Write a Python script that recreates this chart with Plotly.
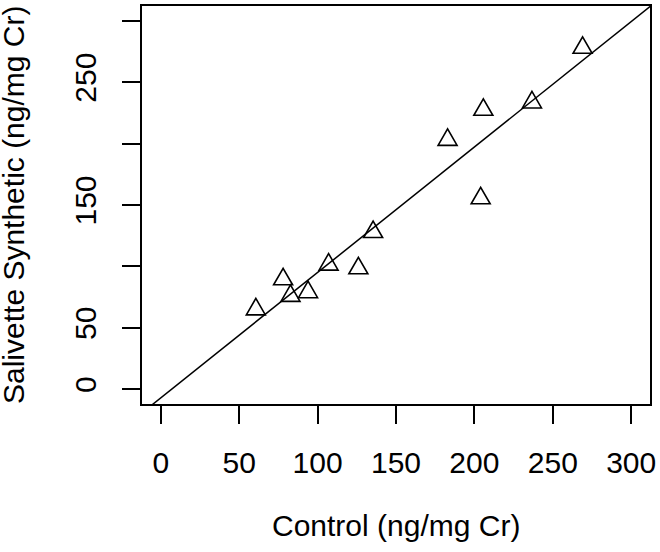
import plotly.graph_objects as go

# Data
control = [60.6, 78.0, 82.7, 93.9, 107.0, 126.0, 135.4, 182.9, 204.0, 205.7, 236.7, 269.0]
synthetic = [65.0, 89.5, 76.0, 79.0, 101.5, 98.5, 128.0, 203.0, 155.5, 227.5, 233.5, 278.0]

x_ticks = [0, 50, 100, 150, 200, 250, 300]
x_ticklabels = ["0", "50", "100", "150", "200", "250", "300"]
y_ticks = [0, 50, 100, 150, 200, 250, 300]
y_ticklabels = ["0", "50", "", "150", "", "250", ""]

fit_slope = 1.021
fit_intercept = -7.0
axis_range = [-12, 312]

line_x = [axis_range[0] - 20, axis_range[1] + 20]
line_y = [fit_intercept + fit_slope * v for v in line_x]

FONT = "Liberation Sans, Arial, sans-serif"
FS = 30

# R pch=2 style open triangle (equilateral), in pixels around each point
TRI_PATH = "M -9.5,-5.5 L 9.5,-5.5 L 0,11 Z"

fig = go.Figure()
fig.add_trace(go.Scatter(x=line_x, y=line_y, mode="lines",
                         line=dict(color="black", width=1.5),
                         hoverinfo="skip", showlegend=False))
fig.add_trace(go.Scatter(x=control, y=synthetic, mode="markers",
                         marker=dict(symbol="triangle-up", size=16, opacity=0,
                                     color="black"),
                         showlegend=False))

for cx, sy in zip(control, synthetic):
    fig.add_shape(type="path", xref="x", yref="y",
                  xsizemode="pixel", ysizemode="pixel",
                  xanchor=cx, yanchor=sy, path=TRI_PATH,
                  line=dict(color="black", width=1.6), fillcolor="rgba(0,0,0,0)")

axis_common = dict(showgrid=False, zeroline=False, showline=True, mirror=True,
                   linecolor="black", linewidth=1.5, ticks="outside", ticklen=18,
                   tickwidth=1.5, tickcolor="black",
                   tickfont=dict(family=FONT, size=FS, color="black"))

fig.update_layout(
    width=660, height=552,
    margin=dict(l=142, r=7, t=4, b=148),
    paper_bgcolor="white", plot_bgcolor="white",
    xaxis=dict(range=axis_range, tickmode="array", tickvals=x_ticks,
               ticktext=x_ticklabels, ticklabelstandoff=13, **axis_common),
    yaxis=dict(range=axis_range, tickmode="array", tickvals=y_ticks,
               ticktext=y_ticklabels, tickangle=-90, ticklabelstandoff=14,
               **axis_common),
    annotations=[
        dict(text="Control (ng/mg Cr)", xref="paper", yref="paper", x=0.5, y=0,
             xanchor="center", yanchor="middle", yshift=-121, showarrow=False,
             font=dict(family=FONT, size=FS, color="black")),
        dict(text="Salivette Synthetic (ng/mg Cr)", xref="paper", yref="paper",
             x=0, y=0.5, xanchor="center", yanchor="middle", xshift=-129,
             textangle=-90, showarrow=False,
             font=dict(family=FONT, size=FS, color="black")),
    ],
)

fig.write_html("out.html", config={"displayModeBar": False},
               post_script="document.body.style.margin='0';document.body.style.overflow='hidden';")
